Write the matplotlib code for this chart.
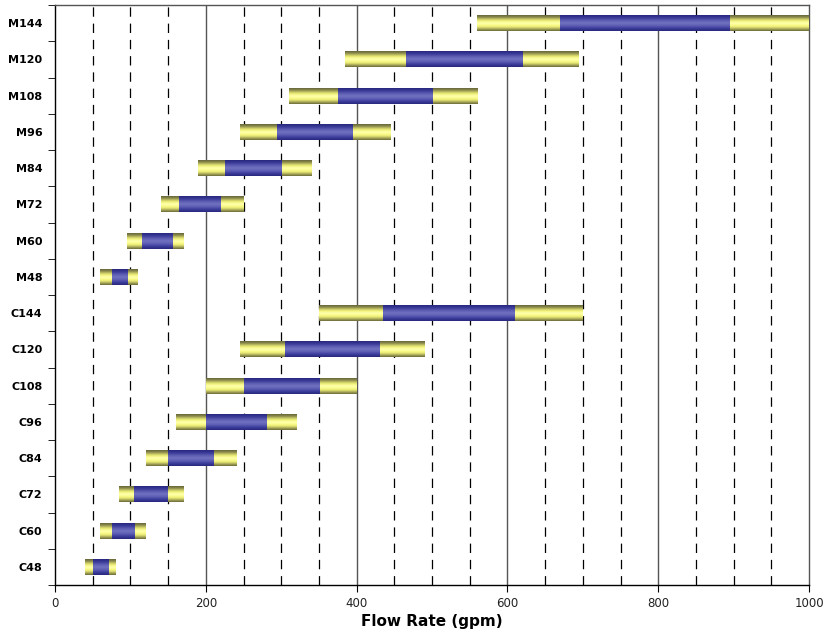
import numpy as np
import matplotlib
matplotlib.use('Agg')
import matplotlib.pyplot as plt
from matplotlib.colors import LinearSegmentedColormap

# categories listed bottom to top
categories = ['C48', 'C60', 'C72', 'C84', 'C96', 'C108', 'C120', 'C144',
              'M48', 'M60', 'M72', 'M84', 'M96', 'M108', 'M120', 'M144']
outer_lo = [40, 60, 85, 120, 160, 200, 245, 350, 60, 95, 140, 190, 245, 310, 385, 560]
outer_hi = [80, 120, 170, 240, 320, 400, 490, 700, 110, 170, 250, 340, 445, 560, 695, 1000]
inner_lo = [50, 75, 105, 150, 200, 250, 305, 435, 75, 115, 165, 225, 295, 375, 465, 670]
inner_hi = [70, 105, 150, 210, 280, 350, 430, 610, 95, 155, 220, 300, 395, 500, 620, 895]

yellow_cmap = LinearSegmentedColormap.from_list(
    'yel', ['#6a6a38', '#a8a85a', '#e8e874', '#fcfc8c', '#ffffb0', '#f4f47c', '#c8c866', '#8a8a4c', '#66663a'])
blue_cmap = LinearSegmentedColormap.from_list(
    'blu', ['#28287e', '#3c3c9c', '#5e5eb4', '#7272c2', '#5c5cb2', '#3a3a98', '#28287e'])

fig = plt.figure(figsize=(8.35, 6.3), dpi=100)
ax = fig.add_axes([0.0659, 0.0714, 0.903, 0.9206])

y = np.arange(len(categories))
h = 0.44

outer = ax.barh(y, np.array(outer_hi) - np.array(outer_lo), left=outer_lo, height=h,
                color='#e8e870', edgecolor='none', zorder=3)
inner = ax.barh(y, np.array(inner_hi) - np.array(inner_lo), left=inner_lo, height=h,
                color='#4a4aa8', edgecolor='none', zorder=4)

grad = np.linspace(0, 1, 64).reshape(-1, 1)
for bars, cmap, z in [(outer, yellow_cmap, 3.5), (inner, blue_cmap, 4.5)]:
    for p in bars.patches:
        x0, y0 = p.get_x(), p.get_y()
        im = ax.imshow(grad, cmap=cmap, aspect='auto', interpolation='bilinear',
                       extent=(x0, x0 + p.get_width(), y0 + p.get_height(), y0),
                       origin='upper', zorder=z)
        im.set_clip_path(p)

ax.set_xlim(0, 1000)
ax.set_ylim(-0.5, len(categories) - 0.5)

# grid lines
for v in range(50, 1000, 50):
    if v % 200 == 0:
        ax.axvline(v, color='#555555', lw=1.0, zorder=1)
    else:
        ax.axvline(v, color='black', lw=0.9, ls=(0, (7.5, 5.5)), zorder=1)

ax.set_xticks([0, 200, 400, 600, 800, 1000])
ax.tick_params(axis='x', labelsize=8.5, labelcolor='#222222', length=5, direction='out')
ax.set_yticks(y)
ax.set_yticklabels(categories, fontsize=8, fontweight='bold')
ax.tick_params(axis='y', which='major', length=0, pad=9)
ax.set_yticks(np.arange(-0.5, len(categories), 1), minor=True)
ax.tick_params(axis='y', which='minor', length=5, direction='out')

for s in ax.spines.values():
    s.set_color('black')
    s.set_linewidth(1.0)
ax.spines['top'].set_color('#555555')
ax.spines['right'].set_color('#555555')

ax.set_xlabel('Flow Rate (gpm)', fontsize=11, fontweight='bold', labelpad=3)

fig.savefig('out.png', dpi=100)
